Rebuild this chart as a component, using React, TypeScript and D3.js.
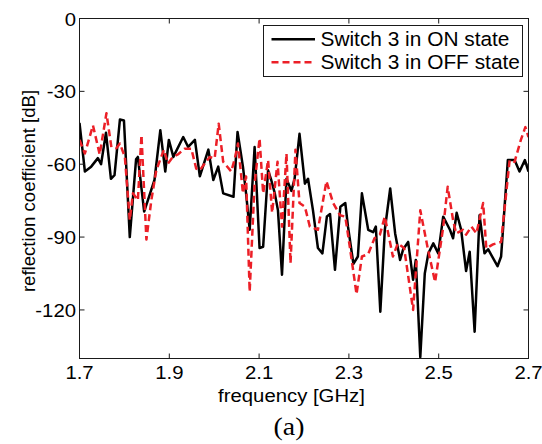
import React from 'react';
import * as d3 from 'd3';

const xTicks = [1.7, 1.9, 2.1, 2.3, 2.5, 2.7];
const yTicks = [0, -30, -60, -90, -120];
const seriesLabels = ['Switch 3 in ON state', 'Switch 3 in OFF state'];

const onFreq = [
  1.700, 1.712, 1.726, 1.741, 1.748, 1.759, 1.770, 1.778, 1.790, 1.799,
  1.812, 1.826, 1.830, 1.844, 1.867, 1.880, 1.891, 1.899, 1.909, 1.931,
  1.942, 1.957, 1.968, 1.987, 1.998, 2.009, 2.020, 2.043, 2.052, 2.064,
  2.071, 2.079, 2.090, 2.101, 2.109, 2.120, 2.127, 2.135, 2.142, 2.151,
  2.161, 2.172, 2.179, 2.190, 2.202, 2.209, 2.220, 2.231, 2.241, 2.251,
  2.258, 2.269, 2.281, 2.292, 2.298, 2.310, 2.320, 2.329, 2.343, 2.354,
  2.360, 2.370, 2.380, 2.392, 2.403, 2.414, 2.421, 2.432, 2.443, 2.449,
  2.459, 2.469, 2.477, 2.488, 2.499, 2.510, 2.525, 2.532, 2.540, 2.550,
  2.561, 2.569, 2.580, 2.591, 2.602, 2.610, 2.631, 2.639, 2.654, 2.669,
  2.680, 2.692, 2.700,
];
const onDb = [
  -43, -63, -61, -57.5, -60, -47, -66, -64.5, -41.6, -42,
  -90, -58, -57, -79.5, -66.5, -46, -63, -50, -57, -48.8,
  -52.9, -50, -65, -54, -66.5, -61, -72, -73.4, -46.7, -61,
  -72, -87, -52.9, -94.5, -94, -62.5, -66.5, -72, -79, -105.5,
  -66, -71, -66, -47.5, -68, -66, -79, -94.5, -96.7, -81.5,
  -80.5, -103.5, -77.5, -76, -85.7, -101, -98, -72, -87, -88,
  -85.7, -120.7, -87, -70, -88.5, -99.4, -95, -92, -107.6, -99.4,
  -139.5, -105, -96.7, -92.6, -96.7, -81.6, -87, -90.5, -80, -87,
  -104, -96, -129, -81, -96.7, -95, -102, -98, -58.3, -58.3,
  -63, -58.3, -63,
];

const offFreq = [
  1.700, 1.712, 1.730, 1.745, 1.760, 1.771, 1.782, 1.790, 1.801, 1.812,
  1.819, 1.830, 1.838, 1.849, 1.860, 1.871, 1.888, 1.897, 1.908, 1.919,
  1.934, 1.949, 1.960, 1.968, 1.979, 1.990, 2.001, 2.010, 2.020, 2.038,
  2.046, 2.053, 2.064, 2.071, 2.079, 2.090, 2.101, 2.109, 2.120, 2.129,
  2.141, 2.151, 2.161, 2.170, 2.181, 2.190, 2.202, 2.213, 2.231, 2.250,
  2.265, 2.280, 2.292, 2.302, 2.317, 2.329, 2.343, 2.357, 2.369, 2.380,
  2.398, 2.409, 2.423, 2.443, 2.459, 2.476, 2.492, 2.510, 2.520, 2.532,
  2.539, 2.554, 2.561, 2.573, 2.584, 2.599, 2.606, 2.621, 2.639, 2.658,
  2.669, 2.683, 2.693, 2.700,
];
const offDb = [
  -50, -55.6, -44, -56, -39, -53, -53.4, -51.5, -57, -83,
  -72, -74.8, -48, -91, -74.8, -62.5, -54, -59.7, -57, -56,
  -53.6, -53.6, -61.8, -62.5, -59.7, -57, -57.6, -43.3, -59, -63,
  -57.6, -51.5, -72, -65, -112.5, -68, -49.4, -72, -58.3, -80,
  -59, -85.7, -55.6, -100.8, -54, -76, -77.5, -85.7, -87, -67,
  -76, -81, -81.6, -94, -113.5, -98, -97, -90.5, -89, -81.6,
  -98, -92.6, -94.5, -120, -79, -95, -108.5, -86, -69.3, -83,
  -88.5, -87, -89, -85.7, -88.5, -76, -94.6, -93, -92, -58.3,
  -59, -50, -44.7, -48.8,
];

const RED = '#ec1f27';
const FONT = '"Liberation Sans", Arial, Helvetica, sans-serif';
const SX = 1.07;

export default function App() {
  const left = 79.5, right = 528.5, top = 18.5, bottom = 358.5;
  const x = d3.scaleLinear().domain([1.7, 2.7]).range([left, right]);
  const y = d3.scaleLinear().domain([-140, 0]).range([bottom, top]);
  const line = d3
    .line<[number, number]>()
    .x((d) => x(d[0]))
    .y((d) => y(d[1]));
  const onPts: [number, number][] = onFreq.map((f, i) => [f, onDb[i]]);
  const offPts: [number, number][] = offFreq.map((f, i) => [f, offDb[i]]);
  const tickLen = 5;
  const frame = '#1a1a1a';

  const htext = (px: number, py: number, s: string, size: number, anchor: string, family = FONT, key?: string) => (
    <text
      key={key}
      transform={`translate(${px},${py}) scale(${SX},1)`}
      fontFamily={family}
      fontSize={size}
      textAnchor={anchor}
      fill="#000"
    >
      {s}
    </text>
  );

  return (
    <svg
      width={542}
      height={444}
      style={{ position: 'absolute', left: 0, top: 0, background: '#fff' }}
    >
      <rect x={0} y={0} width={542} height={444} fill="#fff" />
      <defs>
        <clipPath id="plotclip">
          <rect x={left} y={top} width={right - left} height={bottom - top} />
        </clipPath>
      </defs>
      <g clipPath="url(#plotclip)">
        <path d={line(onPts) || ''} fill="none" stroke="#000" strokeWidth={2.5} strokeLinejoin="round" />
        <path
          d={line(offPts) || ''}
          fill="none"
          stroke={RED}
          strokeWidth={2.5}
          strokeDasharray="7,4"
          strokeLinejoin="round"
        />
      </g>
      {/* frame */}
      <rect x={left} y={top} width={right - left} height={bottom - top} fill="none" stroke={frame} strokeWidth={1} />
      {xTicks.map((t) => (
        <g key={'xt' + t}>
          <line x1={x(t)} x2={x(t)} y1={bottom} y2={bottom - tickLen} stroke={frame} />
          <line x1={x(t)} x2={x(t)} y1={top} y2={top + tickLen} stroke={frame} />
        </g>
      ))}
      {yTicks.map((t) => (
        <g key={'yt' + t}>
          <line x1={left} x2={left + tickLen} y1={y(t)} y2={y(t)} stroke={frame} />
          <line x1={right} x2={right - tickLen} y1={y(t)} y2={y(t)} stroke={frame} />
        </g>
      ))}
      {xTicks.map((t) => htext(x(t), 379, t.toFixed(1), 19, 'middle', FONT, 'xl' + t))}
      {yTicks.map((t) => htext(76, y(t) + 7, String(t), 19, 'end', FONT, 'yl' + t))}
      {htext(291.5, 402, 'frequency [GHz]', 19, 'middle')}
      <text
        transform="translate(35,191) rotate(-90)"
        fontFamily={FONT}
        fontSize={18.6}
        textAnchor="middle"
        fill="#000"
      >
        reflection coefficient [dB]
      </text>
      {htext(289, 435, '(a)', 26, 'middle', '"Liberation Serif", "Times New Roman", serif')}
      {/* legend */}
      <rect x={263.5} y={25.5} width={259} height={51} fill="#fff" stroke={frame} strokeWidth={1} />
      <line x1={271.5} x2={315} y1={39.3} y2={39.3} stroke="#000" strokeWidth={2.5} />
      <line x1={271.5} x2={315} y1={62.3} y2={62.3} stroke={RED} strokeWidth={2.5} strokeDasharray="7,4" />
      {htext(320.5, 45.7, seriesLabels[0], 19.5, 'start')}
      {htext(320.5, 69, seriesLabels[1], 19.5, 'start')}
    </svg>
  );
}
